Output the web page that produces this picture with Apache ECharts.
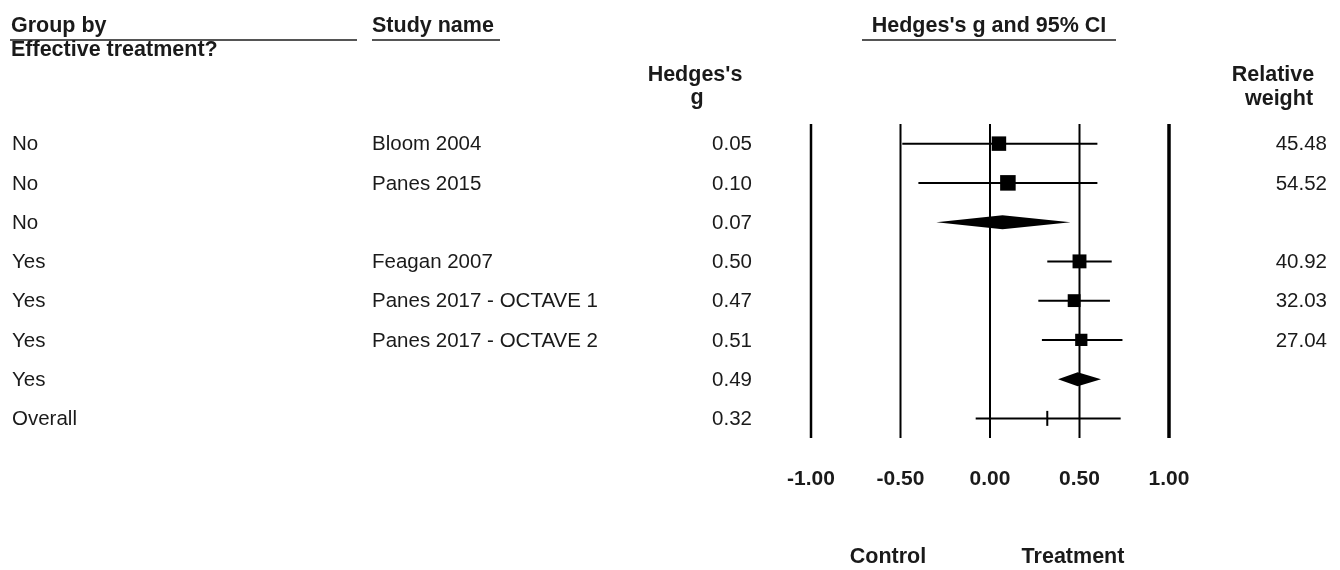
<!DOCTYPE html>
<html><head><meta charset="utf-8">
<script src="https://cdn.jsdelivr.net/npm/echarts@6/dist/echarts.min.js"></script>
<style>html,body{margin:0;padding:0;background:#fff}#c{width:1340px;height:570px}</style>
</head><body><div id="c"></div>
<script>
// ---- data ----
const groups  = ['No', 'No', 'No', 'Yes', 'Yes', 'Yes', 'Yes', 'Overall'];
const studies = ['Bloom 2004', 'Panes 2015', '', 'Feagan 2007', 'Panes 2017 - OCTAVE 1', 'Panes 2017 - OCTAVE 2', '', ''];
const hedgesG = [0.05, 0.10, 0.07, 0.50, 0.47, 0.51, 0.49, 0.32];
const lowerCI = [-0.49, -0.40, -0.30, 0.32, 0.27, 0.29, 0.38, -0.08];
const upperCI = [0.60, 0.60, 0.45, 0.68, 0.67, 0.74, 0.62, 0.73];
const weights = ['45.48', '54.52', '', '40.92', '32.03', '27.04', '', ''];
const rowKind = ['study', 'study', 'summary', 'study', 'study', 'study', 'summary', 'overall'];
const refLines = [-1, -0.5, 0, 0.5, 1];
const xTicks = [-1, -0.5, 0, 0.5, 1];

// ---- chart ----
const FONT = '"Liberation Sans", Arial, sans-serif';
const BODY = 20.5;
const HEAD = 21.5;
const chart = echarts.init(document.getElementById('c'), null, {renderer: 'canvas'});

function txt(x, y, s, align, bold, size) {
  return {type: 'text', x: x, y: y, style: {text: s, fill: '#1a1a1a', font: (bold ? 'bold ' : '') + (size || (bold ? HEAD : BODY)) + 'px ' + FONT, textAlign: align, textVerticalAlign: 'middle'}};
}

const rowData = groups.map((_, i) => [hedgesG[i], i, lowerCI[i], upperCI[i]]);

const option = {
  backgroundColor: '#fff',
  animation: false,
  grid: {left: 811, width: 358, top: 124, height: 314},
  xAxis: {
    type: 'value', min: -1, max: 1, interval: 0.5,
    axisLine: {show: false}, axisTick: {show: false}, splitLine: {show: false},
    axisLabel: {margin: 31, color: '#1a1a1a', fontFamily: FONT, fontSize: 21, fontWeight: 'bold',
      formatter: v => xTicks.indexOf(v) >= 0 ? v.toFixed(2) : ''}
  },
  yAxis: {type: 'value', min: -0.5, max: 7.5, inverse: true, show: false},
  series: [
    {
      type: 'custom', name: 'ref', data: refLines.map(v => [v]),
      renderItem: (params, api) => {
        const v = api.value(0);
        const a = api.coord([v, -0.5]), b = api.coord([v, 7.5]);
        const w = v === 1 ? 3.5 : (v === -1 ? 2.5 : 2);
        return {type: 'line', shape: {x1: a[0], y1: a[1], x2: b[0], y2: b[1]}, style: {stroke: '#000', lineWidth: w}};
      }
    },
    {
      type: 'custom', name: 'ci', data: rowData,
      renderItem: (params, api) => {
        const i = api.value(1);
        const c = api.coord([api.value(0), i]);
        const l = api.coord([api.value(2), i]);
        const u = api.coord([api.value(3), i]);
        const kind = rowKind[i];
        const ch = [];
        if (kind === 'study') {
          ch.push({type: 'line', shape: {x1: l[0], y1: l[1], x2: u[0], y2: u[1]}, style: {stroke: '#000', lineWidth: 2}});
          const s = 9 + parseFloat(weights[i]) * 0.12;
          ch.push({type: 'rect', shape: {x: c[0] - s / 2, y: c[1] - s / 2, width: s, height: s}, style: {fill: '#000'}});
        } else if (kind === 'summary') {
          const h = 7;
          ch.push({type: 'polygon', shape: {points: [[l[0], l[1]], [c[0], c[1] - h], [u[0], u[1]], [c[0], c[1] + h]]}, style: {fill: '#000'}});
        } else {
          ch.push({type: 'line', shape: {x1: l[0], y1: l[1], x2: u[0], y2: u[1]}, style: {stroke: '#000', lineWidth: 2}});
          ch.push({type: 'line', shape: {x1: c[0], y1: c[1] - 7.5, x2: c[0], y2: c[1] + 7.5}, style: {stroke: '#000', lineWidth: 2}});
        }
        return {type: 'group', children: ch};
      }
    },
    {
      type: 'custom', name: 'table', data: rowData,
      renderItem: (params, api) => {
        const i = api.value(1);
        const y = api.coord([0, i])[1] + 1;
        return {type: 'group', children: [
          txt(12, y, groups[i], 'left', false),
          txt(372, y, studies[i], 'left', false),
          txt(752, y, hedgesG[i].toFixed(2), 'right', false),
          txt(1327, y, weights[i], 'right', false)
        ]};
      }
    }
  ],
  graphic: [
    txt(11, 26, 'Group by', 'left', true),
    {type: 'line', shape: {x1: 10, y1: 40, x2: 357, y2: 40}, style: {stroke: '#555', lineWidth: 2}},
    txt(11, 50, 'Effective treatment?', 'left', true),
    txt(372, 26, 'Study name', 'left', true),
    {type: 'line', shape: {x1: 372, y1: 40, x2: 500, y2: 40}, style: {stroke: '#555', lineWidth: 2}},
    txt(989, 26, "Hedges's g and 95% CI", 'center', true),
    {type: 'line', shape: {x1: 862, y1: 40, x2: 1116, y2: 40}, style: {stroke: '#555', lineWidth: 2}},
    txt(695, 75, "Hedges's", 'center', true),
    txt(697, 98, 'g', 'center', true),
    txt(1273, 75, 'Relative', 'center', true),
    txt(1279, 99, 'weight', 'center', true),
    txt(888, 557, 'Control', 'center', true),
    txt(1073, 557, 'Treatment', 'center', true)
  ]
};
chart.setOption(option);
</script></body></html>
